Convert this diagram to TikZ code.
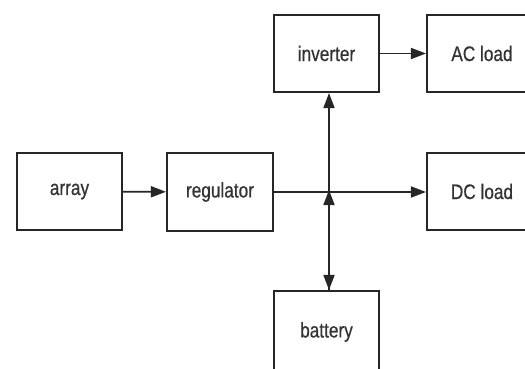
\documentclass[tikz,border=0pt]{standalone}
\usepackage{fontspec}
\setmainfont[FakeStretch=0.82,FakeBold=0.6]{Liberation Sans}
\usetikzlibrary{arrows.meta}
\begin{document}
\begin{tikzpicture}[x=1pt,y=-1pt,
  blk/.style={draw=black!85,line width=2.1pt,minimum width=105pt,minimum height=77pt,inner sep=0pt,font=\fontsize{21}{24}\selectfont,text=black!80},
  conn/.style={draw=black!85,line width=1.7pt,-{Triangle[length=15pt,width=11pt]}}]
\useasboundingbox (0,0) rectangle (525,369);
\clip (0,0) rectangle (525,369);
\fill[white] (0,0) rectangle (525,369);
\node[blk] (array) at (69.5,191.5) {array};
\node[blk,minimum width=106pt,minimum height=78pt] (reg) at (220,192) {regulator};
\node[blk] (inv) at (326.5,53.5) {inverter};
\node[blk,minimum width=110pt] (ac) at (482,53.5) {AC load};
\node[blk,minimum width=110pt] (dc) at (482,191.5) {DC load};
\node[blk,minimum height=82pt] (bat) at (326.5,332) {battery};
\coordinate (j) at (329,192);
\draw[conn] (array) -- (reg);
\draw[conn] (inv) -- (ac);
\draw[conn] (reg.east |- j) -- (dc.west |- j);
\draw[conn] (j) -- (j |- inv.south);
\draw[conn] (j) -- (j |- bat.north);
\draw[conn] (j |- bat.north) -- ([yshift=2pt]j);
\end{tikzpicture}
\end{document}
